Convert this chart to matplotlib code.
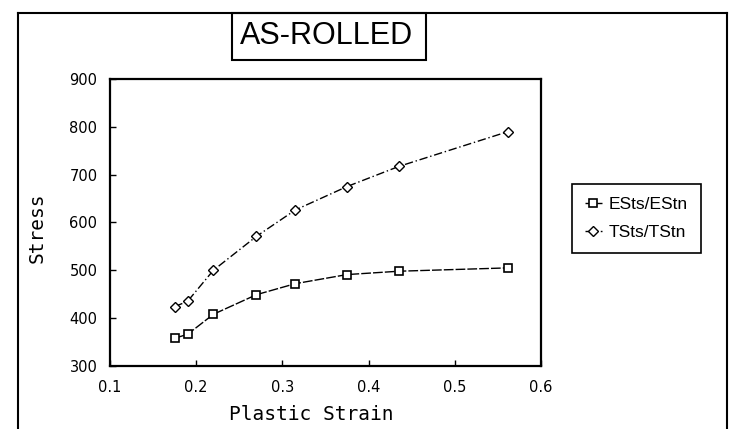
import numpy as np
import matplotlib
matplotlib.use("Agg")
import matplotlib.pyplot as plt
from matplotlib.lines import Line2D
from matplotlib.patches import Rectangle

# values
strain = [0.175, 0.19, 0.22, 0.27, 0.315, 0.375, 0.435, 0.562]
est_stress = [358, 366, 408, 449, 472, 491, 498, 505]
tst_stress = [424, 435, 500, 571, 626, 675, 717, 790]

xticks = [0.1, 0.2, 0.3, 0.4, 0.5, 0.6]
yticks = [300, 400, 500, 600, 700, 800, 900]

fig = plt.figure(figsize=(7.33, 4.29), dpi=100)
ax = fig.add_axes([0.150, 0.147, 0.588, 0.669])

ax.plot(strain, est_stress, color='black', lw=1.0, ls=(0, (7, 1.5)),
        marker='s', ms=6, mfc='white', mec='black', mew=1.2, label='ESts/EStn')
ax.plot(strain, tst_stress, color='black', lw=1.0, ls=(0, (6, 2, 1, 2)),
        marker='D', ms=5, mfc='white', mec='black', mew=1.0, label='TSts/TStn')

ax.set_xlim(0.1, 0.6)
ax.set_ylim(300, 900)
ax.set_xticks(xticks)
ax.set_yticks(yticks)
ax.set_xticklabels([str(t) for t in xticks])
ax.tick_params(direction='in', length=4, width=1, labelsize=10.5)
ax.tick_params(axis='x', pad=10)
ax.tick_params(axis='y', pad=9)
for s in ax.spines.values():
    s.set_linewidth(1.6)

fig.text(0.424, 0.033, 'Plastic Strain', ha='center', va='center',
         family='DejaVu Sans Mono', fontsize=14)
fig.text(0.05, 0.47, 'Stress', ha='center', va='center', rotation=90,
         family='DejaVu Sans Mono', fontsize=14)

leg = fig.legend(loc='center', bbox_to_anchor=(0.868, 0.49), fancybox=False,
                 edgecolor='black', framealpha=1, handlelength=1.0,
                 handletextpad=0.4, borderpad=0.75, labelspacing=0.75,
                 prop={'family': 'Liberation Sans', 'size': 12.5})
leg.get_frame().set_linewidth(1.2)

# outer frame of the scanned page
fig.add_artist(Line2D([18 / 733, 18 / 733], [0, 1 - 13 / 429], color='black', lw=1.5))
fig.add_artist(Line2D([18 / 733, 727 / 733], [1 - 13 / 429, 1 - 13 / 429], color='black', lw=1.5))
fig.add_artist(Line2D([727 / 733, 727 / 733], [0, 1 - 13 / 429], color='black', lw=1.5))

# title box
fig.add_artist(Rectangle((232 / 733, 1 - 60 / 429), 194 / 733, 47 / 429,
                         transform=fig.transFigure, fill=False, ec='black', lw=1.5))
fig.text(327 / 733, 1 - 36 / 429, 'AS-ROLLED', ha='center', va='center',
         family='Liberation Sans', fontsize=22)

fig.savefig('out.png', dpi=100)
